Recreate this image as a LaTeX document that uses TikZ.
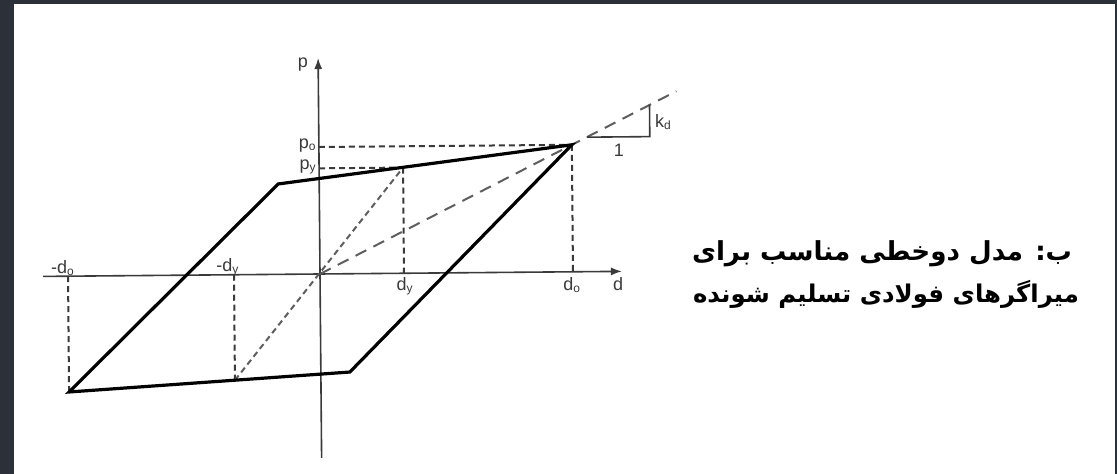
\documentclass[tikz,border=0pt]{standalone}
\usepackage{graphicx}
\usepackage{fontspec}
\setmainfont{Liberation Sans}
\newfontfamily\arabicfont[Script=Arabic]{DejaVu Sans}
\TeXXeTstate=1
\usetikzlibrary{arrows.meta,calc}
\definecolor{bord}{HTML}{2B3039}
\definecolor{ink}{HTML}{3A3A3A}
\definecolor{softink}{HTML}{5E5E5E}
\begin{document}
\begin{tikzpicture}[x=0.5pt,y=-0.5pt,
  loopline/.style={line width=1.6pt, black, line join=miter},
  axisline/.style={line width=0.8pt, ink},
  shortdash/.style={line width=1pt, ink, dash pattern=on 3pt off 2pt},
  diagdash/.style={line width=1pt, softink, dash pattern=on 3pt off 2pt},
  longdash/.style={line width=1pt, softink, dash pattern=on 6pt off 4pt},
  thinline/.style={line width=0.8pt, ink},
  lbl/.style={text=ink, font=\fontsize{9}{10}\selectfont, inner sep=0.5pt},
  fa/.style={inner sep=0pt}]
\useasboundingbox (0,0) rectangle (1117,474);
\fill[bord] (0,0) rectangle (1117,474);
\fill[white] (14,4) rectangle (1115,474);
\begin{scope}[shift={(320,274)}, x=0.5pt, y=0.5pt, rotate=0.5]
  % key points
  \coordinate (O) at (0,0);
  \coordinate (A) at (253,127);
  \coordinate (B) at (84,105.7);
  \coordinate (C) at (-41,90.4);
  \coordinate (D) at (-252,-115.8);
  \coordinate (E) at (29,-98.3);
  \coordinate (F) at (-86,-105.5);
  \coordinate (Ax) at (253,0);
  \coordinate (Bx) at (84,0);
  \coordinate (Dx) at (-252,0);
  \coordinate (Fx) at (-86,0);
  \coordinate (Ay) at (0,127);
  \coordinate (By) at (0,105.7);
  \coordinate (xl) at (-277,0);
  \coordinate (xr) at (302,0);
  \coordinate (yb) at (0,-184);
  \coordinate (yt) at (0,216);
  \coordinate (Lend) at ($(O)!1.415!(A)$);
  \coordinate (K1) at (268,134.5);
  \coordinate (K2) at (331,134.5);
  \coordinate (K3) at (331,166.2);
  % axes
  \draw[axisline, -{Latex[length=5.5pt,width=4pt]}] (xl) -- (xr);
  \draw[axisline, -{Latex[length=5.5pt,width=4pt]}] (yb) -- (yt);
  % dashed guides
  \draw[shortdash] (Ay) -- (A);
  \draw[shortdash] (By) -- (B);
  \draw[shortdash] (A) -- (Ax);
  \draw[shortdash] (B) -- (Bx);
  \draw[shortdash] (Dx) -- (D);
  \draw[shortdash] (Fx) -- (F);
  \draw[diagdash] (F) -- (B);
  \draw[longdash] (O) -- (Lend);
  % slope triangle
  \draw[thinline] (K1) -- (K2) -- (K3);
  % hysteresis loop
  \draw[loopline] (D) -- (C) -- (A) -- (E) -- cycle;
  % labels
  \node[lbl, anchor=east] (lp) at (-9,210) {p};
  \node[lbl] (ld) at (298,-13) {d};
  \node[lbl] (ldo) at (252,-13) {d\textsubscript{o}};
  \node[lbl] (ldy) at (85,-13) {d\textsubscript{y}};
  \node[lbl] (lmdo) at (-257,8) {-d\textsubscript{o}};
  \node[lbl] (lmdy) at (-92,8) {-d\textsubscript{y}};
  \node[lbl, anchor=east] (lpo) at (-1,128) {p\textsubscript{o}};
  \node[lbl, anchor=east] (lpy) at (-1,107) {p\textsubscript{y}};
  \node[lbl, anchor=west] (lkd) at (335,149) {k\textsubscript{d}};
  \node[lbl] (lone) at (300,121) {1};
\end{scope}
\node[fa] (t1) at (882,254) {\resizebox{190pt}{!}{\arabicfont\bfseries\beginR ب: مدل دوخطی مناسب برای\endR}};
\node[fa] (t2) at (886,294) {\resizebox{193pt}{!}{\arabicfont\bfseries\beginR میراگرهای فولادی تسلیم شونده\endR}};
\end{tikzpicture}
\end{document}
